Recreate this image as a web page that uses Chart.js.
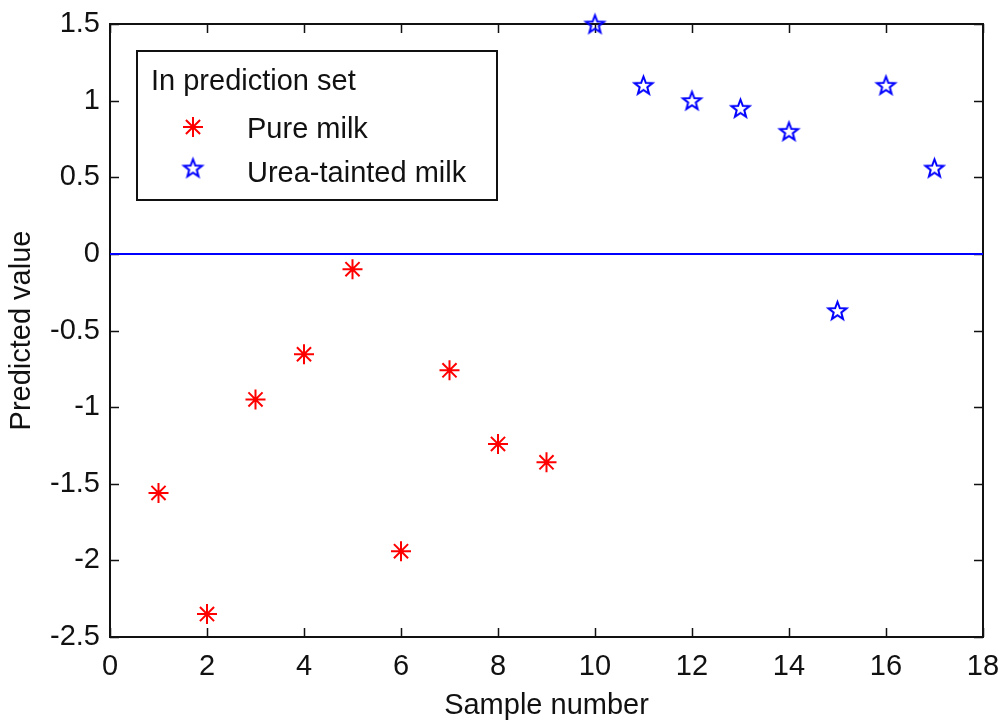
<!DOCTYPE html>
<html>
<head>
<meta charset="utf-8">
<title>Predicted value by sample number</title>
<script src="https://cdn.jsdelivr.net/npm/chart.js@4/dist/chart.umd.min.js"></script>
<style>
  html, body { margin: 0; padding: 0; background: #fff; }
  #wrap { width: 999px; height: 720px; }
</style>
</head>
<body>
<div id="wrap"><canvas id="chart" width="999" height="720"></canvas></div>
<script>
// Samples and predicted values
const pureSamples = [1, 2, 3, 4, 5, 6, 7, 8, 9];
const pureValues = [-1.56, -2.35, -0.95, -0.655, -0.10, -1.94, -0.76, -1.24, -1.36];
const taintedSamples = [10, 11, 12, 13, 14, 15, 16, 17];
const taintedValues = [1.50, 1.10, 1.00, 0.95, 0.80, -0.37, 1.10, 0.56];

// Decision threshold drawn across the full x range
const thresholdValue = 0;

// Axis ticks
const xTicks = [0, 2, 4, 6, 8, 10, 12, 14, 16, 18];
const yTicks = [-2.5, -2, -1.5, -1, -0.5, 0, 0.5, 1, 1.5];

// Labels
const legendTitle = 'In prediction set';
const seriesNames = ['Pure milk', 'Urea-tainted milk'];
const xTitle = 'Sample number';
const yTitle = 'Predicted value';

const FONT = "'Liberation Sans', Arial, Helvetica, sans-serif";
const RED = '#ff0000';
const BLUE = '#0000ff';

// Outlined five-pointed star used as a point marker
function pentagram(color, R, lw, inner) {
  const size = Math.ceil(2 * R + lw * 2 + 2);
  const c = document.createElement('canvas');
  c.width = size; c.height = size;
  const g = c.getContext('2d');
  const cx = size / 2, cy = size / 2 + R * 0.08;
  const r = R * inner;
  g.beginPath();
  for (let i = 0; i < 10; i++) {
    const a = -Math.PI / 2 + i * Math.PI / 5;
    const rr = i % 2 === 0 ? R : r;
    const px = cx + rr * Math.cos(a), py = cy + rr * Math.sin(a);
    if (i === 0) g.moveTo(px, py); else g.lineTo(px, py);
  }
  g.closePath();
  g.strokeStyle = color;
  g.lineWidth = lw;
  g.lineJoin = 'miter';
  g.stroke();
  return c;
}
const starMarker = pentagram(BLUE, 9.5, 2, 0.42);

const toPoints = (xs, ys) => xs.map((x, i) => ({ x, y: ys[i] }));

// Box around the plot with inward ticks on all four sides
const boxAxes = {
  id: 'boxAxes',
  beforeDatasetsDraw(chart) {
    const { ctx, chartArea: a, scales: { x, y } } = chart;
    const len = 9;
    ctx.save();
    ctx.strokeStyle = '#111';
    ctx.lineWidth = 1.5;
    ctx.beginPath();
    xTicks.forEach(v => {
      const px = Math.round(x.getPixelForValue(v)) + 0.5;
      ctx.moveTo(px, a.bottom); ctx.lineTo(px, a.bottom - len);
      ctx.moveTo(px, a.top); ctx.lineTo(px, a.top + len);
    });
    yTicks.forEach(v => {
      const py = Math.round(y.getPixelForValue(v)) + 0.5;
      ctx.moveTo(a.left, py); ctx.lineTo(a.left + len, py);
      ctx.moveTo(a.right, py); ctx.lineTo(a.right - len, py);
    });
    ctx.stroke();
    ctx.lineWidth = 2;
    ctx.strokeRect(a.left, a.top, a.right - a.left, a.bottom - a.top);
    ctx.restore();
  }
};

// Legend box in the upper-left corner of the plot
const boxLegend = {
  id: 'boxLegend',
  afterDraw(chart) {
    const { ctx } = chart;
    ctx.save();
    ctx.fillStyle = '#fff';
    ctx.fillRect(137, 51, 360, 149);
    ctx.strokeStyle = '#111';
    ctx.lineWidth = 2;
    ctx.strokeRect(137, 51, 360, 149);
    ctx.fillStyle = '#111';
    ctx.font = '29px ' + FONT;
    ctx.textBaseline = 'alphabetic';
    ctx.textAlign = 'left';
    ctx.fillText(legendTitle, 151, 90);
    ctx.fillText(seriesNames[0], 247, 138);
    ctx.fillText(seriesNames[1], 247, 182);
    ctx.strokeStyle = RED;
    ctx.fillStyle = RED;
    Chart.helpers.drawPoint(ctx, {
      pointStyle: 'star', radius: 10, borderWidth: 2, rotation: 0
    }, 193, 127);
    ctx.drawImage(starMarker, 193 - starMarker.width / 2, 168 - starMarker.height / 2);
    ctx.restore();
  }
};

Chart.defaults.font.family = FONT;
Chart.defaults.color = '#111';

new Chart(document.getElementById('chart'), {
  type: 'scatter',
  data: {
    datasets: [
      {
        type: 'line',
        label: 'threshold',
        data: [{ x: xTicks[0], y: thresholdValue }, { x: xTicks[xTicks.length - 1], y: thresholdValue }],
        borderColor: BLUE,
        borderWidth: 2,
        pointRadius: 0,
        fill: false,
        order: 3
      },
      {
        label: seriesNames[0],
        data: toPoints(pureSamples, pureValues),
        pointStyle: 'star',
        pointRadius: 10,
        borderColor: RED,
        backgroundColor: RED,
        borderWidth: 2,
        clip: false,
        order: 2
      },
      {
        label: seriesNames[1],
        data: toPoints(taintedSamples, taintedValues),
        pointStyle: starMarker,
        pointRadius: 10,
        borderColor: BLUE,
        clip: false,
        order: 1
      }
    ]
  },
  options: {
    responsive: false,
    animation: false,
    events: [],
    layout: { padding: { top: 24, right: 16, left: 0, bottom: 0 } },
    plugins: {
      legend: { display: false },
      tooltip: { enabled: false }
    },
    scales: {
      x: {
        type: 'linear',
        min: xTicks[0],
        max: xTicks[xTicks.length - 1],
        afterBuildTicks: s => { s.ticks = xTicks.map(v => ({ value: v })); },
        afterFit: s => { s.height = 83; s.paddingLeft = 0; s.paddingRight = 0; },
        grid: { display: false, drawTicks: false },
        border: { display: false },
        ticks: {
          padding: 13,
          maxRotation: 0,
          autoSkip: false,
          font: { size: 29 },
          callback: v => String(v)
        },
        title: {
          display: true,
          text: xTitle,
          font: { size: 29, lineHeight: 1 },
          padding: { top: 0, bottom: 0 }
        }
      },
      y: {
        type: 'linear',
        min: yTicks[0],
        max: yTicks[yTicks.length - 1],
        afterBuildTicks: s => { s.ticks = yTicks.map(v => ({ value: v })); },
        afterFit: s => { s.width = 110; s.paddingTop = 0; s.paddingBottom = 0; },
        grid: { display: false, drawTicks: false },
        border: { display: false },
        ticks: {
          padding: 10,
          autoSkip: false,
          font: { size: 29 },
          callback: v => String(Math.round(v * 10) / 10)
        },
        title: {
          display: true,
          text: yTitle,
          font: { size: 29, lineHeight: 1 },
          padding: { top: 7, bottom: 0 }
        }
      }
    }
  },
  plugins: [boxAxes, boxLegend]
});
</script>
</body>
</html>
